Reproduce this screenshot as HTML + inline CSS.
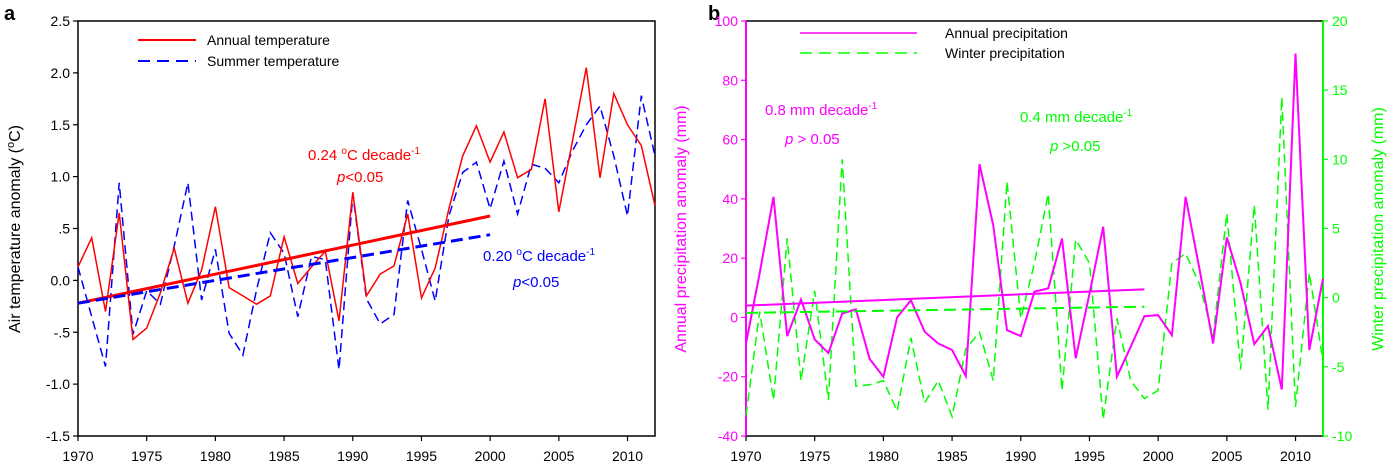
<!DOCTYPE html>
<html><head><meta charset="utf-8">
<style>
html,body{margin:0;padding:0;background:#fff;}
svg{display:block;font-family:"Liberation Sans",Arial,sans-serif;}
</style></head>
<body>
<svg id="chart" width="1400" height="467" viewBox="0 0 1400 467">
<text x="4" y="20" font-size="20" font-weight="bold">a</text>
<text x="708" y="20" font-size="20" font-weight="bold">b</text>
<text transform="translate(20,229) rotate(-90)" text-anchor="middle" font-size="16">Air temperature anomaly (<tspan font-size="11" dy="-6">o</tspan><tspan dy="6">C)</tspan></text>
<text transform="translate(686,229) rotate(-90)" text-anchor="middle" font-size="16" fill="#ff00ff">Annual precipitation anomaly (mm)</text>
<text transform="translate(1383,229) rotate(-90)" text-anchor="middle" font-size="16" fill="#00ff00">Winter precipitation anomaly (mm)</text>
<g id="pa"></g>
<g id="pb"></g>
<g>
<line x1="138" y1="40" x2="196" y2="40" stroke="#ff0000" stroke-width="2"/>
<text x="207" y="45" font-size="14">Annual temperature</text>
<line x1="138" y1="61" x2="196" y2="61" stroke="#0000ff" stroke-width="2" stroke-dasharray="12,7"/>
<text x="207" y="66" font-size="14">Summer temperature</text>
</g>
<g>
<line x1="800" y1="33" x2="917" y2="33" stroke="#ff00ff" stroke-width="1.5"/>
<text x="945" y="38" font-size="14">Annual precipitation</text>
<line x1="800" y1="53" x2="917" y2="53" stroke="#00ff00" stroke-width="1.5" stroke-dasharray="12,7"/>
<text x="945" y="58" font-size="14">Winter precipitation</text>
</g>
<g font-size="15">
<text x="308" y="160" fill="#ff0000">0.24 <tspan font-size="10" dy="-6">o</tspan><tspan dy="6">C decade</tspan><tspan font-size="10" dy="-6">-1</tspan></text>
<text x="337" y="182" fill="#ff0000"><tspan font-style="italic">p</tspan>&lt;0.05</text>
<text x="483" y="261" fill="#0000ff">0.20 <tspan font-size="10" dy="-6">o</tspan><tspan dy="6">C decade</tspan><tspan font-size="10" dy="-6">-1</tspan></text>
<text x="513" y="287" fill="#0000ff"><tspan font-style="italic">p</tspan>&lt;0.05</text>
<text x="765" y="115" fill="#ff00ff">0.8 mm decade<tspan font-size="10" dy="-6">-1</tspan></text>
<text x="785" y="144" fill="#ff00ff"><tspan font-style="italic">p</tspan> &gt; 0.05</text>
<text x="1020" y="122" fill="#00ff00">0.4 mm decade<tspan font-size="10" dy="-6">-1</tspan></text>
<text x="1050" y="151" fill="#00ff00"><tspan font-style="italic">p</tspan> &gt;0.05</text>
</g>
</svg>
<script>
const years = [];
for (let y = 1970; y <= 2012; y++) years.push(y);
const annualTemp = [0.13,0.41,-0.3,0.65,-0.57,-0.46,-0.12,0.31,-0.22,0.1,0.71,-0.07,-0.15,-0.23,-0.15,0.42,-0.03,0.13,0.28,-0.39,0.85,-0.15,0.06,0.14,0.64,-0.17,0.12,0.69,1.2,1.49,1.14,1.43,0.99,1.07,1.75,0.66,1.35,2.05,0.99,1.8,1.5,1.3,0.72];
const summerTemp = [0.13,-0.35,-0.83,0.94,-0.52,-0.1,-0.23,0.33,0.94,-0.19,0.3,-0.51,-0.72,-0.09,0.46,0.26,-0.35,0.23,0.2,-0.86,0.83,-0.18,-0.42,-0.33,0.77,0.3,-0.2,0.62,1.04,1.14,0.69,1.15,0.64,1.12,1.08,0.94,1.25,1.5,1.68,1.2,0.62,1.78,1.2];
const tempTrendAnnual = [-0.22,0.62];
const tempTrendSummer = [-0.22,0.44];
const annualPrecip = [-8.8,15,40.7,-6.3,6,-7.4,-12,1.3,2.7,-14,-20,0,5.8,-4.8,-8.8,-11,-19.8,51.7,31,-4.3,-6.3,8.7,9.8,26.6,-13.8,8,30.6,-20,-9.9,0.4,0.8,-6,40.7,16.5,-8.8,27,11.5,-9,-2.9,-24.3,89,-11,13.1];
const winterPrecip = [-8.5,-1,-7.4,4.3,-6,0.5,-7.4,10,-6.4,-6.3,-6,-8.2,-2.9,-7.6,-6,-8.6,-3.7,-2.5,-6,8.4,-1.5,2.5,7.5,-6.7,4.2,2.5,-8.8,-1.5,-6,-7.3,-6.7,2.5,3.2,1,-2.8,6.1,-5.2,6.7,-8.1,14.5,-7.9,1.8,-4.6];
const precipTrendAnnual = [4,9.5];
const precipTrendWinter = [-1.1,-0.65];
const trendYears = [1970,2000];
const trendYearsB = [1970,1999];
const tempTicks = [2.5,2.0,1.5,1.0,0.5,0.0,-0.5,-1.0,-1.5];
const tempTickLabels = ["2.5","2.0","1.5","1.0",".5","0.0","-.5","-1.0","-1.5"];
const precipTicks = [100,80,60,40,20,0,-20,-40];
const winterTicks = [20,15,10,5,0,-5,-10];
const yearTicks = [1970,1975,1980,1985,1990,1995,2000,2005,2010];

const NS = "http://www.w3.org/2000/svg";
function mk(parent, tag, attrs) {
  const e = document.createElementNS(NS, tag);
  for (const k in attrs) e.setAttribute(k, attrs[k]);
  parent.appendChild(e);
  return e;
}
const plotTop = 21, plotBot = 436;
const axL = 78, axR = 655;
const xa = y => axL + (y - 1970) * (axR - axL) / 42;
const ya = v => plotBot - (v + 1.5) * (plotBot - plotTop) / 4;
const bxL = 746, bxR = 1323;
const xb = y => bxL + (y - 1970) * (bxR - bxL) / 42;
const ybl = v => plotBot - (v + 40) * (plotBot - plotTop) / 140;
const ybr = v => plotBot - (v + 10) * (plotBot - plotTop) / 30;

const pa = document.getElementById('pa');
const pb = document.getElementById('pb');

function polyline(g, xs, ys, xf, yf, attrs, name) {
  const pts = xs.map((x, i) => xf(x).toFixed(1) + ',' + yf(ys[i]).toFixed(1)).join(' ');
  const p = mk(g, 'polyline', Object.assign({points: pts, fill: 'none'}, attrs));
  
  
  return p;
}

const fa = mk(pa, 'rect', {x: axL, y: plotTop, width: axR - axL, height: plotBot - plotTop, fill: 'none', stroke: '#000', 'stroke-width': 1.5});


tempTicks.forEach((v, i) => {
  const t = mk(pa, 'line', {x1: axL - 5, x2: axL, y1: ya(v), y2: ya(v), stroke: '#000', 'stroke-width': 1.2});
  
  
  const l = mk(pa, 'text', {x: axL - 8, y: ya(v) + 5, 'text-anchor': 'end', 'font-size': 14});
  l.textContent = tempTickLabels[i];
  
  
});
yearTicks.forEach(yr => {
  const t = mk(pa, 'line', {x1: xa(yr), x2: xa(yr), y1: plotBot, y2: plotBot + 5, stroke: '#000', 'stroke-width': 1.2});
  
  
  const l = mk(pa, 'text', {x: xa(yr), y: plotBot + 25, 'text-anchor': 'middle', 'font-size': 14});
  l.textContent = yr;
  
  
});
polyline(pa, years, summerTemp, xa, ya, {stroke: '#0000ff', 'stroke-width': 1.5, 'stroke-dasharray': '9,5'}, 'summer-temperature-line');
polyline(pa, years, annualTemp, xa, ya, {stroke: '#ff0000', 'stroke-width': 1.5}, 'annual-temperature-line');
polyline(pa, trendYears, tempTrendAnnual, xa, ya, {stroke: '#ff0000', 'stroke-width': 3}, 'annual-temperature-trend');
polyline(pa, trendYears, tempTrendSummer, xa, ya, {stroke: '#0000ff', 'stroke-width': 3, 'stroke-dasharray': '12,6'}, 'summer-temperature-trend');

const fb = mk(pb, 'rect', {x: bxL, y: plotTop, width: bxR - bxL, height: plotBot - plotTop, fill: 'none', stroke: '#000', 'stroke-width': 1.5});


const la = mk(pb, 'line', {x1: bxL, x2: bxL, y1: plotTop, y2: plotBot, stroke: '#ff00ff', 'stroke-width': 2});


const ra = mk(pb, 'line', {x1: bxR, x2: bxR, y1: plotTop, y2: plotBot, stroke: '#00ff00', 'stroke-width': 2});


precipTicks.forEach(v => {
  const t = mk(pb, 'line', {x1: bxL - 5, x2: bxL, y1: ybl(v), y2: ybl(v), stroke: '#ff00ff', 'stroke-width': 1.2});
  
  
  const l = mk(pb, 'text', {x: bxL - 8, y: ybl(v) + 5, 'text-anchor': 'end', 'font-size': 14, fill: '#ff00ff'});
  l.textContent = v;
  
  
});
winterTicks.forEach(v => {
  const t = mk(pb, 'line', {x1: bxR, x2: bxR + 5, y1: ybr(v), y2: ybr(v), stroke: '#00ff00', 'stroke-width': 1.2});
  
  
  const l = mk(pb, 'text', {x: bxR + 9, y: ybr(v) + 5, 'text-anchor': 'start', 'font-size': 14, fill: '#00ff00'});
  l.textContent = v;
  
  
});
yearTicks.forEach(yr => {
  const t = mk(pb, 'line', {x1: xb(yr), x2: xb(yr), y1: plotBot, y2: plotBot + 5, stroke: '#000', 'stroke-width': 1.2});
  
  
  const l = mk(pb, 'text', {x: xb(yr), y: plotBot + 25, 'text-anchor': 'middle', 'font-size': 14});
  l.textContent = yr;
  
  
});
polyline(pb, years, winterPrecip, xb, ybr, {stroke: '#00ff00', 'stroke-width': 1.5, 'stroke-dasharray': '9,5'}, 'winter-precipitation-line');
polyline(pb, years, annualPrecip, xb, ybl, {stroke: '#ff00ff', 'stroke-width': 2}, 'annual-precipitation-line');
polyline(pb, trendYearsB, precipTrendAnnual, xb, ybl, {stroke: '#ff00ff', 'stroke-width': 2}, 'annual-precipitation-trend');
polyline(pb, trendYearsB, precipTrendWinter, xb, ybr, {stroke: '#00ff00', 'stroke-width': 2, 'stroke-dasharray': '12,6'}, 'winter-precipitation-trend');
</script>
</body></html>
